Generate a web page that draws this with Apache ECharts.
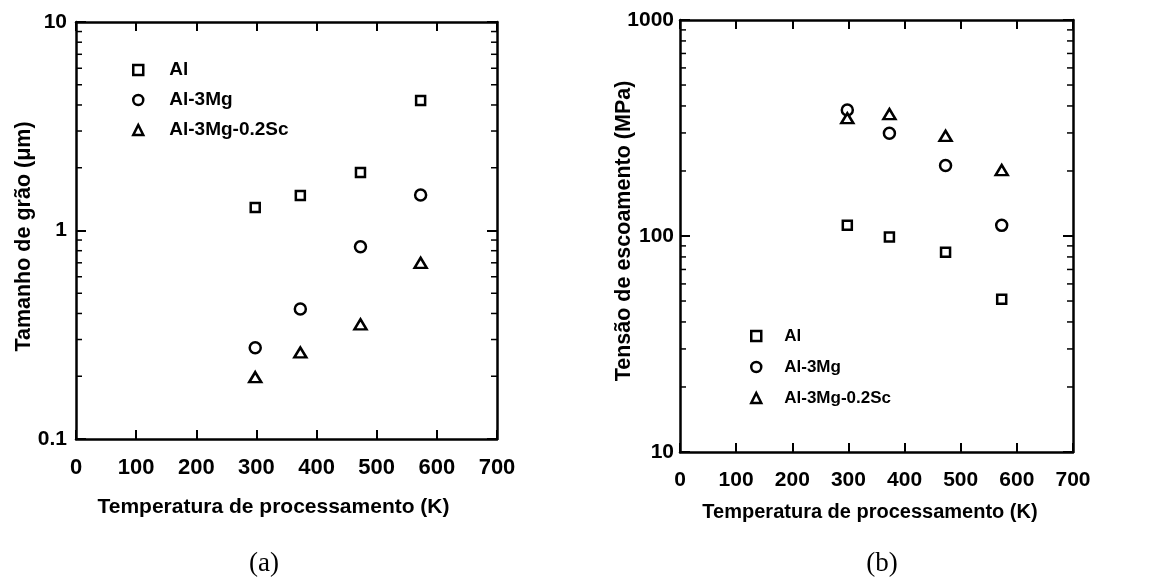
<!DOCTYPE html>
<html>
<head>
<meta charset="utf-8">
<script src="https://cdn.jsdelivr.net/npm/echarts@6/dist/echarts.min.js"></script>
<style>
html,body{margin:0;padding:0;background:#fff;}
#c{width:1157px;height:583px;}
</style>
</head>
<body>
<div id="c"></div>
<script>
// ---- data ----
const temps = [298, 373, 473, 573];
const seriesNames = ['Al', 'Al-3Mg', 'Al-3Mg-0.2Sc'];
// (a) grain size, µm
const grainAl = [1.29, 1.47, 1.90, 4.2];
const grainAlMg = [0.274, 0.42, 0.836, 1.48];
const grainAlMgSc = [0.198, 0.26, 0.355, 0.70];
// (b) yield stress, MPa
const stressAl = [112, 99, 84, 51];
const stressAlMg = [383, 299, 212, 112];
const stressAlMgSc = [351, 367, 291, 202];
// axis ticks
const xTicks = [0, 100, 200, 300, 400, 500, 600, 700];
const yTicksA = [0.1, 1, 10];
const yTicksB = [10, 100, 1000];
const minorTicksA = [0.2, 0.3, 0.4, 0.5, 0.6, 0.7, 0.8, 0.9, 2, 3, 4, 5, 6, 7, 8, 9];
const minorTicksB = [20, 30, 40, 50, 60, 70, 80, 90, 200, 300, 400, 500, 600, 700, 800, 900];

const FONT = "'Liberation Sans', Arial, Helvetica, sans-serif";
const pair = (ys) => temps.map((t, i) => [t, ys[i]]);
const fmtNum = (v) => String(+Number(v).toPrecision(4));

const symbols = {
  'Al': { symbol: 'rect', size: 9 },
  'Al-3Mg': { symbol: 'circle', size: 11 },
  'Al-3Mg-0.2Sc': { symbol: 'triangle', size: [12, 10] }
};

function scatter(name, data, xi, yi) {
  return {
    type: 'scatter', name: name, xAxisIndex: xi, yAxisIndex: yi,
    data: data, symbol: symbols[name].symbol, symbolSize: symbols[name].size,
    itemStyle: { color: '#fff', borderColor: '#000', borderWidth: 2.5, opacity: 1 },
    emphasis: { disabled: true }, z: 5
  };
}

function minorTickSeries(values, xi, yi) {
  return {
    type: 'custom', name: 'minor', xAxisIndex: xi, yAxisIndex: yi, silent: true, clip: false,
    data: values.map(v => [0, v]),
    renderItem: function (params, api) {
      const v = api.value(1);
      const p0 = api.coord([0, v]);
      const p1 = api.coord([700, v]);
      return { type: 'group', children: [
        { type: 'line', shape: { x1: p0[0], y1: p0[1], x2: p0[0] + 6, y2: p0[1] }, style: { stroke: '#000', lineWidth: 1.5 } },
        { type: 'line', shape: { x1: p1[0], y1: p1[1], x2: p1[0] - 6, y2: p1[1] }, style: { stroke: '#000', lineWidth: 1.5 } }
      ] };
    }
  };
}

function xAxis(grid, pos, show, fontSize, name, nameGap, namePad) {
  return {
    type: 'value', gridIndex: grid, position: pos, min: 0, max: 700, interval: 100,
    axisLine: { show: true, onZero: false, lineStyle: { color: '#000', width: 2.5 } },
    axisTick: { show: true, inside: true, length: 9, lineStyle: { color: '#000', width: 2 } },
    axisLabel: { show: show, color: '#000', fontFamily: FONT, fontWeight: 'bold', fontSize: fontSize, margin: 18,
      formatter: v => xTicks.includes(v) ? String(v) : '' },
    splitLine: { show: false },
    name: show ? name : '', nameLocation: 'middle', nameGap: nameGap, nameMoveOverlap: false,
    nameTextStyle: { color: '#000', fontFamily: FONT, fontWeight: 'bold', fontSize: fontSize - 1, padding: [0, namePad, 0, 0] }
  };
}

function yAxis(grid, pos, show, min, max, ticks, name, nameGap, namePad, fontSize, margin) {
  return {
    type: 'log', logBase: 10, gridIndex: grid, position: pos, min: min, max: max,
    axisLine: { show: true, onZero: false, lineStyle: { color: '#000', width: 2.5 } },
    axisTick: { show: true, inside: true, length: 10, lineStyle: { color: '#000', width: 2 } },
    axisLabel: { show: show, color: '#000', fontFamily: FONT, fontWeight: 'bold', fontSize: fontSize, margin: margin,
      formatter: v => { const s = fmtNum(v); return ticks.map(String).includes(s) ? s : ''; } },
    splitLine: { show: false },
    minorTick: { show: false },
    name: show ? name : '', nameLocation: 'middle', nameGap: nameGap, nameRotate: 90, nameMoveOverlap: false,
    nameTextStyle: { color: '#000', fontFamily: FONT, fontWeight: 'bold', fontSize: 21.5, padding: namePad }
  };
}

function legend(left, top, fontSize, lineHeight, gap, textPad) {
  return {
    orient: 'vertical', selectedMode: false, left: left, top: top,
    itemWidth: 10, itemHeight: 10, itemGap: gap,
    itemStyle: { color: '#fff', borderColor: '#000', borderWidth: 2.5 },
    textStyle: { color: '#000', fontFamily: FONT, fontWeight: 'bold', fontSize: fontSize, lineHeight: lineHeight,
      padding: [0, 0, 0, textPad] },
    data: seriesNames
  };
}

const option = {
  backgroundColor: '#fff',
  animation: false,
  grid: [
    { left: 76, top: 22, width: 421, height: 417, outerBoundsMode: 'none' },
    { left: 680, top: 20, width: 393, height: 432, outerBoundsMode: 'none' }
  ],
  xAxis: [
    xAxis(0, 'bottom', true, 22, 'Temperatura de processamento (K)', 58, 26),
    xAxis(0, 'top', false, 22, '', 0, 0),
    xAxis(1, 'bottom', true, 21, 'Temperatura de processamento (K)', 50, 13),
    xAxis(1, 'top', false, 21, '', 0, 0)
  ],
  yAxis: [
    yAxis(0, 'left', true, 0.1, 10, yTicksA, 'Tamanho de grão (μm)', 41, [0, 12, 0, 0], 21, 9),
    yAxis(0, 'right', false, 0.1, 10, yTicksA, '', 0, 0, 21, 9),
    yAxis(1, 'left', true, 10, 1000, yTicksB, 'Tensão de escoamento (MPa)', 45, [0, 0, 0, 10], 21, 6),
    yAxis(1, 'right', false, 10, 1000, yTicksB, '', 0, 0, 21, 6)
  ],
  legend: [
    legend(127, 55, 19, 20, 10, 21),
    legend(745, 322, 17, 18, 13, 18)
  ],
  title: [
    { text: '(a)', left: 259, top: 545, textAlign: 'center',
      textStyle: { color: '#000', fontFamily: "'Liberation Serif', 'Times New Roman', serif", fontWeight: 'normal', fontSize: 27 } },
    { text: '(b)', left: 877, top: 545, textAlign: 'center',
      textStyle: { color: '#000', fontFamily: "'Liberation Serif', 'Times New Roman', serif", fontWeight: 'normal', fontSize: 27 } }
  ],
  series: [
    scatter('Al', pair(grainAl), 0, 0),
    scatter('Al-3Mg', pair(grainAlMg), 0, 0),
    scatter('Al-3Mg-0.2Sc', pair(grainAlMgSc), 0, 0),
    scatter('Al', pair(stressAl), 2, 2),
    scatter('Al-3Mg', pair(stressAlMg), 2, 2),
    scatter('Al-3Mg-0.2Sc', pair(stressAlMgSc), 2, 2),
    minorTickSeries(minorTicksA, 0, 0),
    minorTickSeries(minorTicksB, 2, 2)
  ]
};

const chart = echarts.init(document.getElementById('c'), null, { renderer: 'canvas' });
chart.setOption(option);
</script>
</body>
</html>
